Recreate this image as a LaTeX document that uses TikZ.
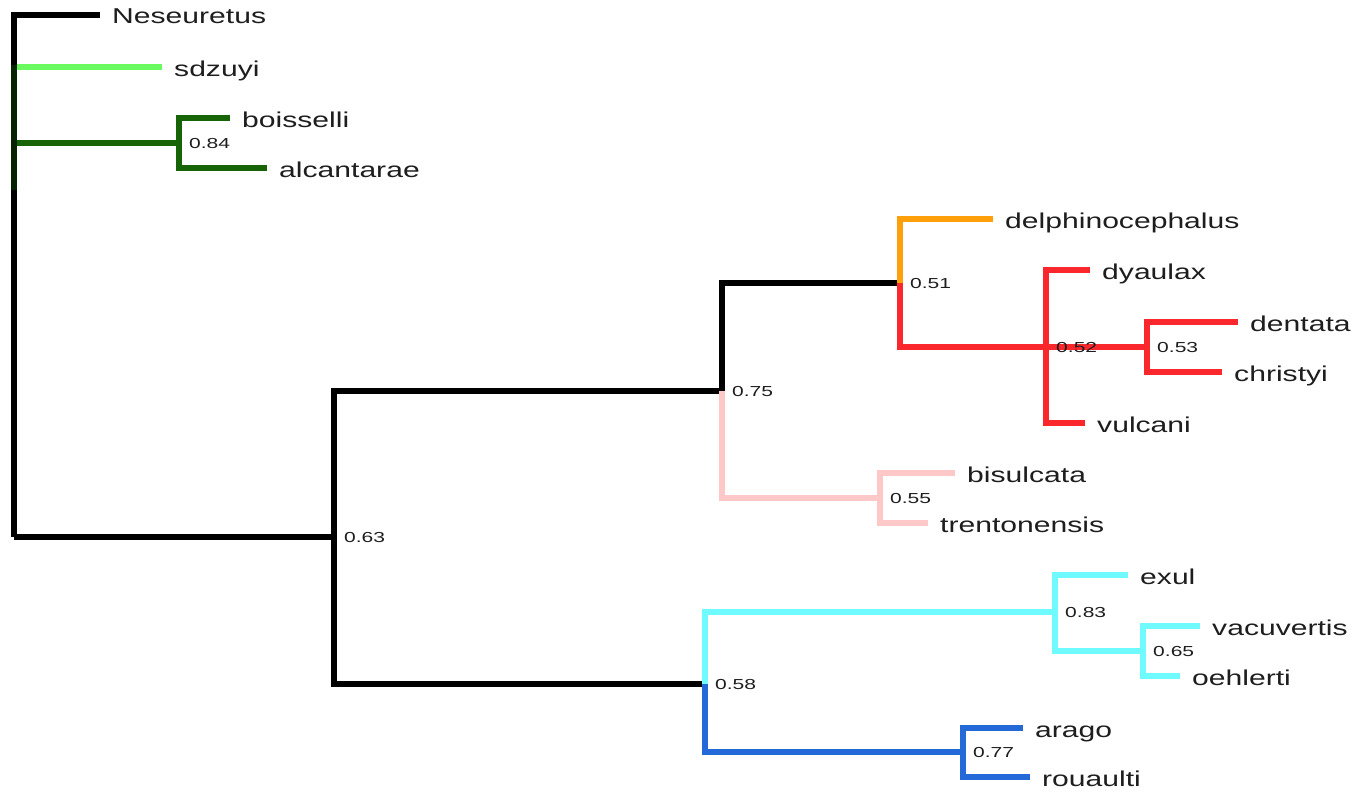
\documentclass[tikz,border=0pt]{standalone}
\usepackage{fontspec}
\newfontfamily\labfont[FakeStretch=1.4]{Liberation Sans}
\newfontfamily\numfont[FakeStretch=1.45]{Liberation Sans}
\definecolor{ltgreen}{RGB}{105,250,95}
\definecolor{dkgreen}{RGB}{22,100,5}
\definecolor{orng}{RGB}{255,160,10}
\definecolor{rd}{RGB}{250,40,45}
\definecolor{pnk}{RGB}{255,200,200}
\definecolor{cyn}{RGB}{110,250,255}
\definecolor{blu}{RGB}{35,105,215}
\definecolor{txt}{RGB}{30,30,30}
\begin{document}
\begin{tikzpicture}[x=1pt,y=-1pt,
  br/.style={line width=5.5pt, line join=miter, line cap=butt},
  leaf/.style={anchor=base west, inner sep=0pt, xshift=12pt, yshift=-9pt, text=txt,
    font=\labfont\fontsize{21.5}{21.5}\selectfont},
  supp/.style={anchor=base west, inner sep=0pt, xshift=10pt, yshift=-5.5pt, text=txt,
    font=\numfont\fontsize{14.5}{14.5}\selectfont}]
\useasboundingbox[fill=white] (0,0) rectangle (1367,792);
% internal nodes
\coordinate (root) at (14,537);
\coordinate (c84) at (179,143);
\coordinate (cA) at (334,537);
\coordinate (cB) at (722,391);
\coordinate (c51) at (900,283);
\coordinate (c52) at (1046,347);
\coordinate (c53) at (1147,347);
\coordinate (c55) at (880,498);
\coordinate (cD) at (705,684);
\coordinate (c83) at (1055,612);
\coordinate (c65) at (1143,651);
\coordinate (c77) at (963,752);
% leaf tips
\coordinate (tNes) at (100,15);
\coordinate (tSdz) at (162,67);
\coordinate (tBoi) at (230,118);
\coordinate (tAlc) at (267,168);
\coordinate (tDel) at (993,219);
\coordinate (tDya) at (1090,270);
\coordinate (tDen) at (1238,322);
\coordinate (tChr) at (1222,372);
\coordinate (tVul) at (1085,423);
\coordinate (tBis) at (955,473);
\coordinate (tTre) at (928,523);
\coordinate (tExu) at (1128,575);
\coordinate (tVac) at (1200,626);
\coordinate (tOeh) at (1180,676);
\coordinate (tAra) at (1023,728);
\coordinate (tRou) at (1030,777);
\coordinate (gTop) at (14,65);
\coordinate (gBot) at (14,190);
% branches
\draw[br, ltgreen] (root |- tSdz) -- (tSdz);
\draw[br, dkgreen] (root |- c84) -- (c84);
\draw[br, dkgreen] (c84) |- (tBoi);
\draw[br, dkgreen] (c84) |- (tAlc);
\draw[br, black] (root) |- (tNes);
\draw[br, black] (root) -- (cA);
\draw[br, dkgreen, opacity=0.35] (gTop) -- (gBot);
\draw[br, black] (cA) |- (cB);
\draw[br, black] (cA) |- (cD);
\draw[br, black] (cB) |- (c51);
\draw[br, orng] (c51) |- (tDel);
\draw[br, rd] (c51) |- (c52);
\draw[br, rd] (c52) |- (tDya);
\draw[br, rd] (c52) |- (tVul);
\draw[br, rd] (c52) -- (c53);
\draw[br, rd] (c53) |- (tDen);
\draw[br, rd] (c53) |- (tChr);
\draw[br, pnk] (cB) |- (c55);
\draw[br, pnk] (c55) |- (tBis);
\draw[br, pnk] (c55) |- (tTre);
\draw[br, cyn] (cD) |- (c83);
\draw[br, cyn] (c83) |- (tExu);
\draw[br, cyn] (c83) |- (c65);
\draw[br, cyn] (c65) |- (tVac);
\draw[br, cyn] (c65) |- (tOeh);
\draw[br, blu] (cD) |- (c77);
\draw[br, blu] (c77) |- (tAra);
\draw[br, blu] (c77) |- (tRou);
% leaf labels
\node[leaf] (Nes) at (tNes) {Neseuretus};
\node[leaf] (Sdz) at (tSdz) {sdzuyi};
\node[leaf] (Boi) at (tBoi) {boisselli};
\node[leaf] (Alc) at (tAlc) {alcantarae};
\node[leaf] (Del) at (tDel) {delphinocephalus};
\node[leaf] (Dya) at (tDya) {dyaulax};
\node[leaf] (Den) at (tDen) {dentata};
\node[leaf] (Chr) at (tChr) {christyi};
\node[leaf] (Vul) at (tVul) {vulcani};
\node[leaf] (Bis) at (tBis) {bisulcata};
\node[leaf] (Tre) at (tTre) {trentonensis};
\node[leaf] (Exu) at (tExu) {exul};
\node[leaf] (Vac) at (tVac) {vacuvertis};
\node[leaf] (Oeh) at (tOeh) {oehlerti};
\node[leaf] (Ara) at (tAra) {arago};
\node[leaf] (Rou) at (tRou) {rouaulti};
% support values
\node[supp] (s84) at (c84) {0.84};
\node[supp] (s63) at (cA) {0.63};
\node[supp] (s75) at (cB) {0.75};
\node[supp] (s51) at (c51) {0.51};
\node[supp] (s52) at (c52) {0.52};
\node[supp] (s53) at (c53) {0.53};
\node[supp] (s55) at (c55) {0.55};
\node[supp] (s58) at (cD) {0.58};
\node[supp] (s83) at (c83) {0.83};
\node[supp] (s65) at (c65) {0.65};
\node[supp] (s77) at (c77) {0.77};
\end{tikzpicture}
\end{document}
